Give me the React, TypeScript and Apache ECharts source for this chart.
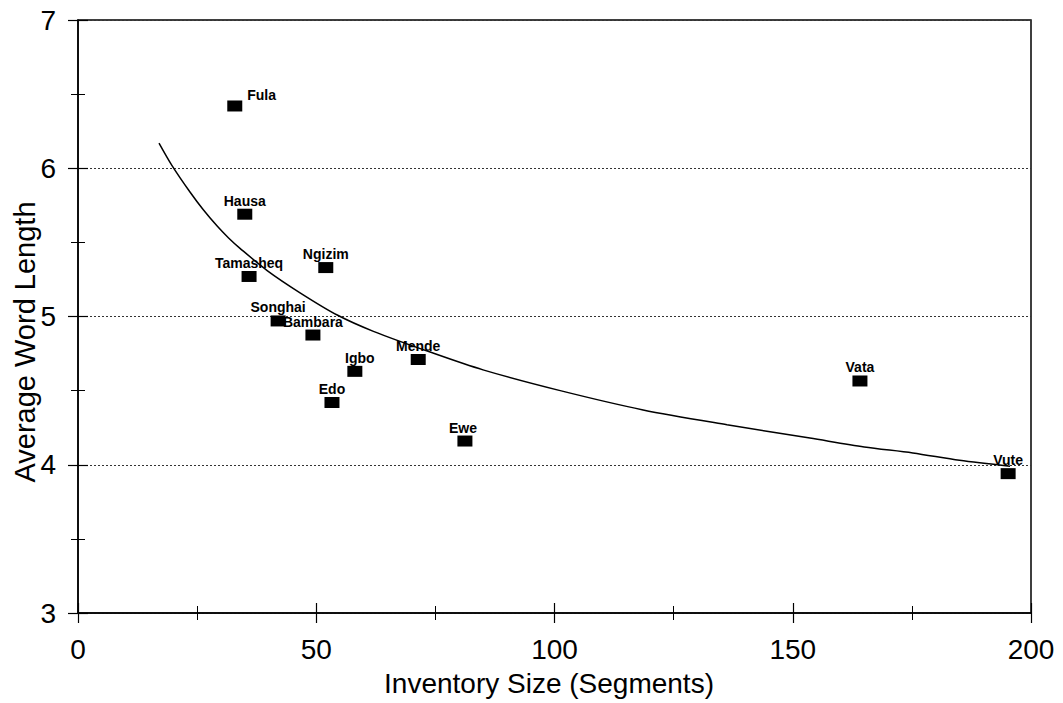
import React, { useEffect, useRef } from "react";
import * as echarts from "echarts";

const languages = ["Fula", "Hausa", "Tamasheq", "Ngizim", "Songhai", "Bambara", "Igbo", "Edo", "Mende", "Ewe", "Vata", "Vute"];
const inventory = [32.9, 35.0, 35.9, 52.0, 42.0, 49.3, 58.1, 53.3, 71.4, 81.2, 164.1, 195.2];
const wordLength = [6.42, 5.69, 5.27, 5.33, 4.97, 4.875, 4.63, 4.42, 4.71, 4.16, 4.565, 3.94];

// trend curve
const trendX = [17.0, 19.7, 23.5, 26.3, 29.2, 31.6, 34.0, 39.7, 46.6, 54.4, 62.0, 73.9, 85.0, 101.2, 118.6, 136.2, 153.6, 165.0, 175.2, 185.0, 195.6];
const trendY = [6.17, 6.02, 5.84, 5.72, 5.61, 5.53, 5.46, 5.31, 5.16, 5.01, 4.90, 4.76, 4.64, 4.50, 4.37, 4.27, 4.18, 4.12, 4.08, 4.03, 3.99];

const xTicks = [0, 50, 100, 150, 200];
const yTicks = [3, 4, 5, 6, 7];

const xTitle = "Inventory Size (Segments)";
const yTitle = "Average Word Length";

const FONT = "'Liberation Sans', Arial, sans-serif";

export default function App() {
  const ref = useRef<HTMLDivElement>(null);

  useEffect(() => {
    if (!ref.current) return;
    const chart = echarts.init(ref.current, undefined, { renderer: "svg" });

    const labelOffsets: Record<string, any> = {
      Fula: { position: "right", distance: 5, offset: [0, -11] },
      Igbo: { offset: [5, 0] },
      Ewe: { offset: [-2, 0] },
    };

    const scatterData = languages.map((name, i) => {
      const d: any = { name, value: [inventory[i], wordLength[i]] };
      if (labelOffsets[name]) d.label = labelOffsets[name];
      return d;
    });

    const trendData = trendX.map((x, i) => [x, trendY[i]]);

    const baseX = {
      type: "value",
      min: xTicks[0],
      max: xTicks[xTicks.length - 1],
      interval: 50,
      position: "bottom",
    };
    const baseY = {
      type: "value",
      min: yTicks[0],
      max: yTicks[yTicks.length - 1],
      interval: 1,
      position: "left",
    };

    chart.setOption({
      animation: false,
      backgroundColor: "#fff",
      grid: {
        left: 78,
        right: 32,
        top: 20,
        bottom: 90,
        show: true,
        borderColor: "#000",
        borderWidth: 1.5,
      },
      xAxis: [
        {
          ...baseX,
          axisLine: { show: true, lineStyle: { color: "#000", width: 1.5 } },
          axisTick: { show: true, length: 10, inside: false, lineStyle: { color: "#000", width: 1.2 } },
          minorTick: { show: true, splitNumber: 2, length: 7, lineStyle: { color: "#000", width: 1 } },
          axisLabel: { fontSize: 28, color: "#000", fontFamily: FONT, margin: 22 },
          splitLine: { show: false },
        },
        {
          ...baseX,
          axisLine: { show: false },
          axisTick: { show: true, length: 10, inside: true, lineStyle: { color: "#000", width: 1.2 } },
          minorTick: { show: true, splitNumber: 2, length: 7, lineStyle: { color: "#000", width: 1 } },
          axisLabel: { show: false },
          splitLine: { show: false },
        },
      ],
      yAxis: [
        {
          ...baseY,
          axisLine: { show: true, lineStyle: { color: "#000", width: 1.5 } },
          axisTick: { show: true, length: 10, inside: false, lineStyle: { color: "#000", width: 1.2 } },
          minorTick: { show: true, splitNumber: 2, length: 7, lineStyle: { color: "#000", width: 1 } },
          axisLabel: { fontSize: 28, color: "#000", fontFamily: FONT, margin: 22 },
          splitLine: { show: true, lineStyle: { color: "#333", width: 1, type: [2, 2] } },
        },
        {
          ...baseY,
          axisLine: { show: false },
          axisTick: { show: true, length: 10, inside: true, lineStyle: { color: "#000", width: 1.2 } },
          minorTick: { show: true, splitNumber: 2, length: 7, lineStyle: { color: "#000", width: 1 } },
          axisLabel: { show: false },
          splitLine: { show: false },
        },
      ],
      graphic: [
        {
          type: "text",
          x: 549,
          y: 683,
          style: {
            text: xTitle,
            font: `28px ${FONT}`,
            fill: "#000",
            textAlign: "center",
            textVerticalAlign: "middle",
          },
        },
        {
          type: "text",
          x: 25,
          y: 342,
          rotation: Math.PI / 2,
          style: {
            text: yTitle,
            font: `29px ${FONT}`,
            fill: "#000",
            textAlign: "center",
            textVerticalAlign: "middle",
          },
        },
      ],
      series: [
        {
          type: "line",
          data: trendData,
          smooth: 0.3,
          showSymbol: false,
          symbol: "none",
          lineStyle: { color: "#000", width: 1.5 },
          silent: true,
          z: 3,
        },
        {
          type: "scatter",
          data: scatterData,
          symbol: "rect",
          symbolSize: [15, 11],
          itemStyle: { color: "#000", opacity: 1 },
          label: {
            show: true,
            position: "top",
            distance: 1,
            formatter: "{b}",
            fontSize: 14,
            fontWeight: "bold",
            fontFamily: FONT,
            color: "#000",
            opacity: 1,
          },
          z: 4,
        },
      ],
    });

    return () => chart.dispose();
  }, []);

  return (
    <div
      ref={ref}
      style={{ position: "fixed", left: 0, top: 0, width: 1063, height: 703, background: "#fff" }}
    />
  );
}
